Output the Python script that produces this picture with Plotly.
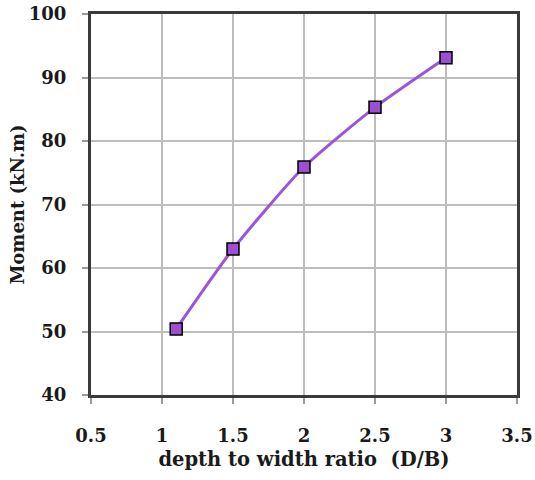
import plotly.graph_objects as go

ratio = [1.1, 1.5, 2.0, 2.5, 3.0]
moment = [50.4, 63.0, 75.9, 85.3, 93.1]

x_ticks = [0.5, 1, 1.5, 2, 2.5, 3, 3.5]
x_labels = ["0.5", "1", "1.5", "2", "2.5", "3", "3.5"]
y_ticks = [40, 50, 60, 70, 80, 90, 100]

font_family = "DejaVu Serif"

fig = go.Figure()
fig.add_trace(go.Scatter(
    x=ratio, y=moment, mode="lines+markers",
    line=dict(color="#9b55d8", width=3, shape="spline", smoothing=0.6),
    marker=dict(symbol="square", size=12, color="#9c4fd0",
                line=dict(color="black", width=1.5)),
    showlegend=False,
))

fig.update_layout(
    width=535, height=480,
    margin=dict(l=91, r=18, t=14, b=85, autoexpand=False),
    paper_bgcolor="white", plot_bgcolor="white",
    font=dict(family=font_family, color="#1a1a1a"),
    xaxis=dict(
        range=[0.5, 3.5], tickvals=x_ticks, ticktext=x_labels,
        showgrid=True, gridcolor="#bdbdbd", gridwidth=1.5,
        showline=True, linecolor="#3a3a3a", linewidth=3, mirror=True,
        ticks="outside", ticklen=6, tickcolor="#9a9a9a", tickwidth=1.5,
        ticklabelstandoff=16, ticklabeloverflow="allow",
        tickfont=dict(size=18, family=font_family, weight="bold"),
        title=dict(text="depth to width ratio  (D/B)",
                   font=dict(size=19.5, family=font_family, weight="bold"),
                   standoff=8),
        zeroline=False, automargin=False,
    ),
    yaxis=dict(
        range=[40, 100], tickvals=y_ticks,
        showgrid=True, gridcolor="#bdbdbd", gridwidth=1.5,
        showline=True, linecolor="#3a3a3a", linewidth=3, mirror=True,
        ticks="outside", ticklen=6, tickcolor="#9a9a9a", tickwidth=1.5,
        ticklabelstandoff=12, ticklabeloverflow="allow",
        tickfont=dict(size=18, family=font_family, weight="bold"),
        title=dict(text="Moment (kN.m)",
                   font=dict(size=18, family=font_family, weight="bold"),
                   standoff=0),
        zeroline=False, automargin=False,
    ),
)

fig.write_html("out.html",
               config={"displayModeBar": False},
               post_script="document.body.style.margin='0';document.body.style.overflow='hidden';")
